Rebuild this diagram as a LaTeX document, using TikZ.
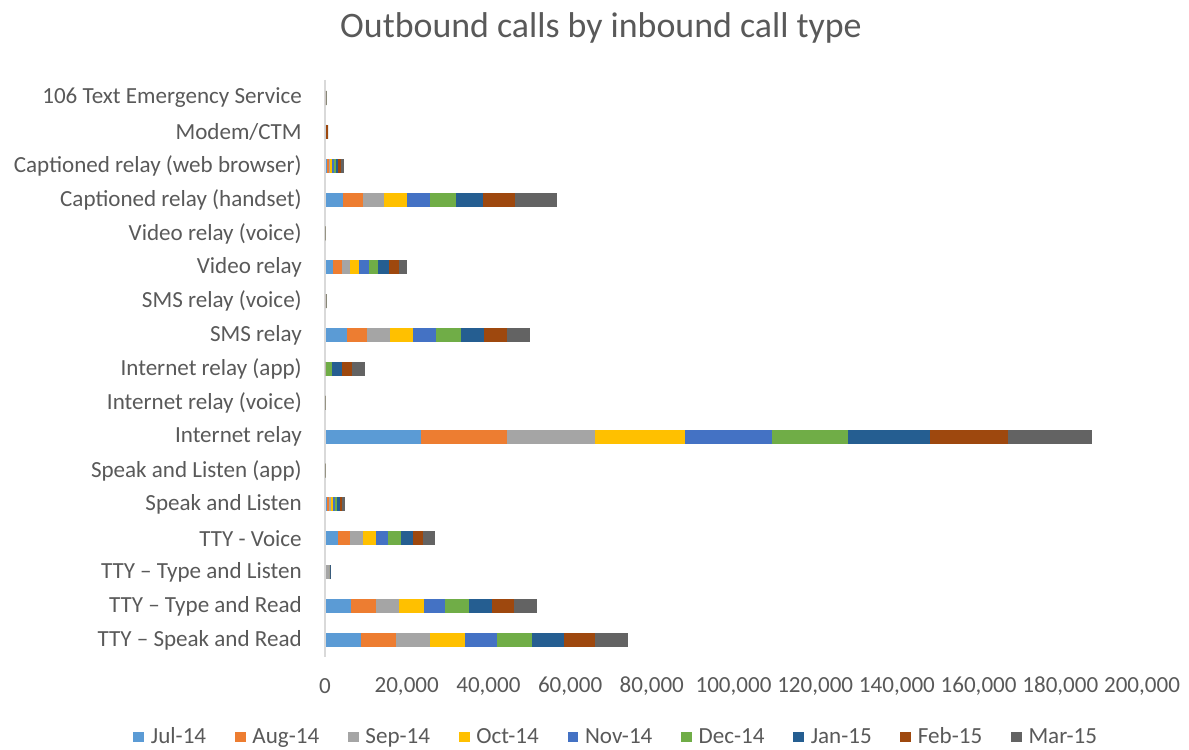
\documentclass[tikz,border=0pt]{standalone}
\usepackage{fontspec}
\setmainfont{Carlito}
\usetikzlibrary{positioning}

\definecolor{bar1}{HTML}{5B9BD5}
\definecolor{bar2}{HTML}{ED7D31}
\definecolor{bar3}{HTML}{A5A5A5}
\definecolor{bar4}{HTML}{FFC000}
\definecolor{bar5}{HTML}{4472C4}
\definecolor{bar6}{HTML}{70AD47}
\definecolor{bar7}{HTML}{255E91}
\definecolor{bar8}{HTML}{9E480E}
\definecolor{bar9}{HTML}{636363}
\definecolor{txt}{HTML}{595959}
\definecolor{axisgray}{HTML}{D9D9D9}

\begin{document}
\begin{tikzpicture}[x=0.025cm,y=-0.025cm,
    every node/.style={text=txt,font=\fontsize{16.4}{19}\selectfont},
    catlabel/.style={anchor=east,inner sep=0pt},
    key/.style={minimum size=7.8pt,inner sep=0pt},
    keytext/.style={inner sep=0pt,text height=1.8ex,text depth=0pt}]

    \useasboundingbox (0,0) rectangle (1189,749);

    \node[font=\fontsize{25.5}{30}\selectfont] (title) at (601,28) {Outbound calls by inbound call type};

    % vertical axis
    \draw[axisgray,line width=0.8pt] (325,80) -- (325,657);

    % stacked bars, values in thousands of calls
    \foreach \lab/\vals [count=\i] in {
        {106 Text Emergency Service}/{0,0,0.25,0,0,0,0,0,0},
        {Modem/CTM}/{0,0.15,0,0,0,0,0,0.5,0},
        {Captioned relay (web browser)}/{0.35,0.4,0.4,0.45,0.45,0.5,0.6,0.6,0.8},
        {Captioned relay (handset)}/{4.36,4.9,5.14,5.56,5.63,6.29,6.76,7.83,10.2},
        {Video relay (voice)}/{0,0,0,0,0,0,0,0,0},
        {Video relay}/{1.91,2.13,2.03,2.13,2.52,2.13,2.62,2.59,1.96},
        {SMS relay (voice)}/{0,0,0.35,0,0,0,0,0,0},
        {SMS relay}/{5.19,5.04,5.56,5.63,5.63,6.19,5.56,5.70,5.56},
        {Internet relay (app)}/{0,0,0,0,0,1.47,2.45,2.52,3.28},
        {Internet relay (voice)}/{0,0,0,0,0,0,0,0,0},
        {Internet relay}/{23.3,21.1,21.5,22.0,21.5,18.4,20.2,19.1,20.6},
        {Speak and Listen (app)}/{0,0,0,0,0,0,0,0,0},
        {Speak and Listen}/{0.4,0.45,0.5,0.5,0.5,0.55,0.55,0.6,0.6},
        {TTY - Voice}/{2.99,3.08,3.11,3.11,3.08,3.11,2.86,2.59,2.86},
        {TTY – Type and Listen}/{0.1,0.1,0.9,0,0,0.1,0.1,0,0},
        {TTY – Type and Read}/{6.32,6.05,5.70,6.05,5.21,5.73,5.63,5.53,5.56},
        {TTY – Speak and Read}/{8.69,8.49,8.47,8.49,7.91,8.42,7.98,7.52,8.0}}{
        \pgfmathsetmacro\yy{98+(\i-1)*33.87}
        \node[catlabel] (c\i) at (302,\yy) {\lab};
        \gdef\acc{0}
        \foreach \v [count=\k] in \vals {
            \pgfmathsetmacro\nxt{\acc+\v}
            \fill[bar\k] (325.5+4.085*\acc,\yy-7) rectangle (325.5+4.085*\nxt,\yy+7);
            \global\let\acc\nxt
        }
    }

    % tick labels
    \node (t0) at (325,686) {0};
    \foreach \t in {20,40,...,200}
        \node (t\t) at (325+4.085*\t,686) {\t,000};

    % legend
    \coordinate (l0) at (105,737);
    \foreach \m [count=\k, remember=\k as \p (initially 0)] in {Jul-14,Aug-14,Sep-14,Oct-14,Nov-14,Dec-14,Jan-15,Feb-15,Mar-15}{
        \node[key,fill=bar\k,right=20pt of l\p] (k\k) {};
        \node[keytext,right=4.3pt of k\k] (l\k) {\m};
    }

\end{tikzpicture}
\end{document}
